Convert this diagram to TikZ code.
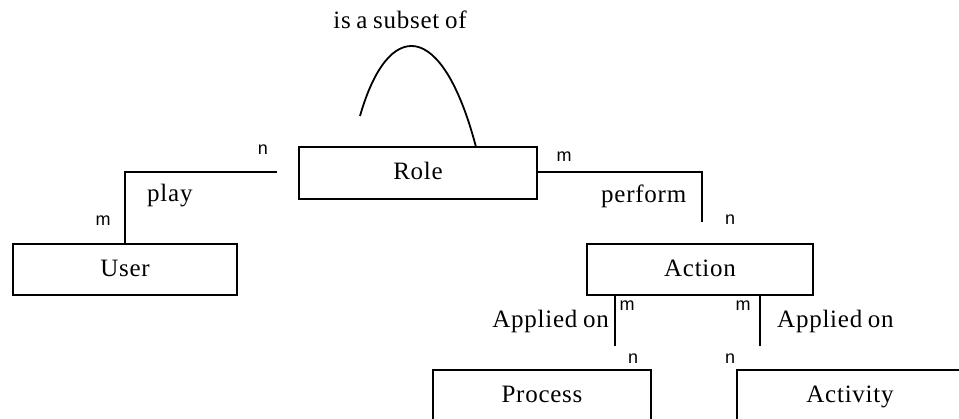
\documentclass[tikz,border=0pt]{standalone}
\usepackage{fontspec}
\setmainfont{Liberation Serif}[LetterSpace=3,WordSpace=0.8]
\newfontfamily\cardfont{Liberation Sans}
\begin{document}
\begin{tikzpicture}[x=1pt,y=-1pt,
  entity/.style={draw,line width=1.8pt,rectangle,inner sep=0pt,
    text height=14pt,text depth=0pt,font=\fontsize{25}{30}\selectfont},
  rel/.style={line width=1.8pt},
  relname/.style={font=\fontsize{25}{30}\selectfont,inner sep=0pt,anchor=base},
  card/.style={font=\cardfont\fontsize{18}{20}\selectfont,inner sep=0pt}]
  \useasboundingbox (0,0) rectangle (959,419);
  \clip (0,0) rectangle (959,419);

  % entities
  \node[entity,minimum width=238pt,minimum height=52pt] (role) at (418,173) {Role};
  \node[entity,minimum width=224pt,minimum height=51pt] (user) at (125,269.5) {User};
  \node[entity,minimum width=226pt,minimum height=51pt] (action) at (700,269.5) {Action};
  \node[entity,minimum width=218pt,minimum height=52pt] (process) at (542,396) {Process};
  \node[entity,minimum width=226pt,minimum height=52pt] (activity) at (850,396) {Activity};

  % recursive relation on Role
  \coordinate (subA) at (360,116);
  \coordinate (subB) at (476,147);
  \draw[rel] (subA) .. controls (388,18) and (442,18) .. (subB);
  \node[relname] (subset) at (400,29) {is a subset of};

  % Role -- User
  \coordinate (playA) at (277,172);
  \draw[rel] (playA) -| (user.north);
  \node[relname,anchor=base west] (play) at (147,202) {play};
  \node[card] (cn1) at (263,150) {n};
  \node[card] (cm1) at (103,221) {m};

  % Role -- Action
  \coordinate (perfB) at (702,222);
  \draw[rel] (role.east |- 0,172) -| (perfB);
  \node[relname,anchor=base west] (perform) at (601,203) {perform};
  \node[card] (cm2) at (564,157) {m};
  \node[card] (cn2) at (730,220) {n};

  % Action -- Process / Activity
  \coordinate (apA) at (615,346);
  \coordinate (apB) at (760,346);
  \draw[rel] (action.south -| apA) -- (apA);
  \draw[rel] (action.south -| apB) -- (apB);
  \node[relname,anchor=base east] (applied1) at (609,328) {Applied on};
  \node[relname,anchor=base west] (applied2) at (777,328) {Applied on};
  \node[card] (cm3) at (627,306) {m};
  \node[card] (cm4) at (743,306) {m};
  \node[card] (cn3) at (633,359) {n};
  \node[card] (cn4) at (730,359) {n};
\end{tikzpicture}
\end{document}
